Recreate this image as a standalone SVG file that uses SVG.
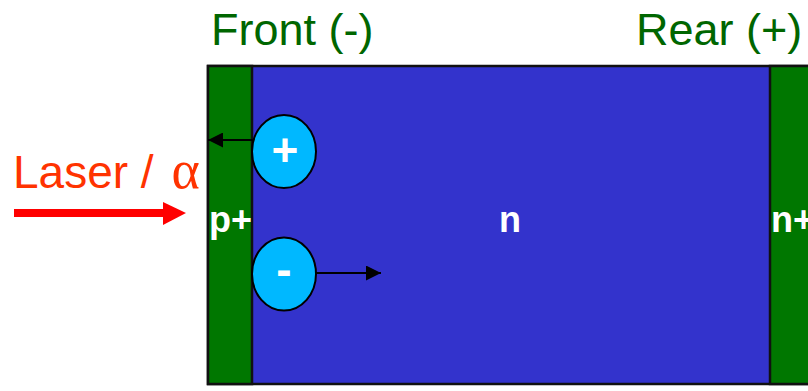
<svg xmlns="http://www.w3.org/2000/svg" width="808" height="391" viewBox="0 0 808 391">
  <defs>
    <style>
      .title { font-family: "Liberation Sans", Arial, sans-serif; font-size: 45px; fill: #006600; }
      .region { font-family: "Liberation Sans", Arial, sans-serif; font-size: 36px; font-weight: bold; fill: #ffffff; }
      .charge { font-family: "Liberation Sans", Arial, sans-serif; font-size: 46px; font-weight: bold; fill: #ffffff; text-anchor: middle; }
      .layer { stroke: #111111; stroke-width: 2.5; }
      .carrier { fill: #00B8FF; stroke: #000000; stroke-width: 2; }
      .drift { stroke: #000000; stroke-width: 2; fill: none; }
    </style>
    <marker id="head" viewBox="0 0 10 10" refX="10" refY="5" markerWidth="17" markerHeight="15" markerUnits="userSpaceOnUse" orient="auto">
      <path d="M0,0 L10,5 L0,10 z" fill="#000000"/>
    </marker>
  </defs>

  <!-- electrode labels -->
  <text class="title" x="211" y="45">Front (-)</text>
  <text class="title" x="636" y="45">Rear (+)</text>

  <!-- detector layers -->
  <g id="bulk">
    <rect class="layer" x="208" y="66" width="610" height="318" fill="#3333CC"/>
    <text class="region" x="499" y="232">n</text>
  </g>
  <g id="p-plus">
    <rect class="layer" x="208" y="66" width="44" height="318" fill="#007700"/>
    <text class="region" x="209" y="232">p+</text>
  </g>
  <g id="n-plus">
    <rect class="layer" x="770" y="66" width="48" height="318" fill="#007700"/>
    <text class="region" x="771" y="232">n+</text>
  </g>

  <!-- incoming beam -->
  <g id="laser">
    <text x="13" y="188" font-family="'Liberation Sans', Arial, sans-serif" font-size="46" fill="#FF3300">Laser / <tspan dx="5" font-family="'Liberation Serif', 'Times New Roman', serif" font-size="54">α</tspan></text>
    <rect x="14" y="209" width="152" height="8" fill="#FF0000"/>
    <path d="M163,202 L186,213 L163,225 z" fill="#FF0000"/>
  </g>

  <!-- carrier drift -->
  <g id="connectors">
    <line class="drift" x1="253" y1="140" x2="208" y2="140" marker-end="url(#head)"/>
    <line class="drift" x1="316" y1="273" x2="381" y2="273" marker-end="url(#head)"/>
  </g>

  <g id="hole">
    <ellipse class="carrier" cx="284" cy="151.5" rx="32" ry="36.5"/>
    <text class="charge" x="285" y="166">+</text>
  </g>
  <g id="electron">
    <ellipse class="carrier" cx="284" cy="274" rx="32" ry="36.5"/>
    <text class="charge" x="284" y="285">-</text>
  </g>
</svg>
